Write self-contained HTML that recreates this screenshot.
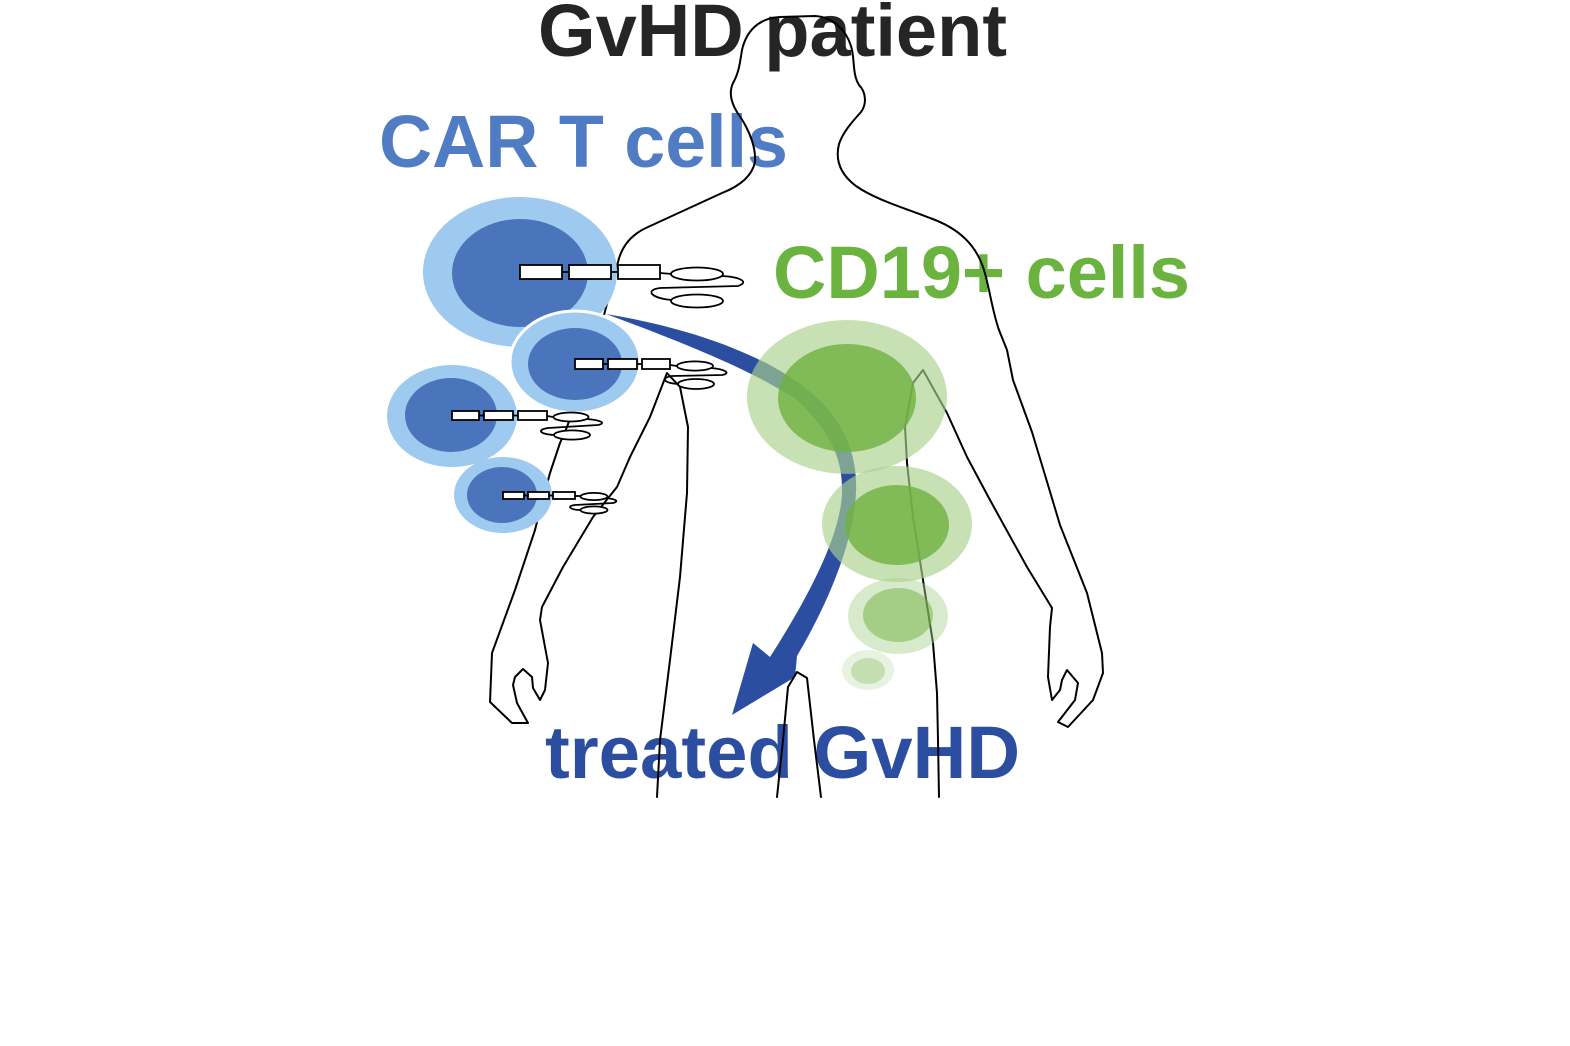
<!DOCTYPE html>
<html>
<head>
<meta charset="utf-8">
<style>
  html, body { margin: 0; padding: 0; background: #ffffff; }
  svg { display: block; }
  .t { font-family: "Liberation Sans", Arial, sans-serif; font-weight: 700; font-size: 74px; }
</style>
</head>
<body>
<svg width="1570" height="1046" viewBox="0 0 1570 1046" xmlns="http://www.w3.org/2000/svg">
  <rect width="1570" height="1046" fill="#ffffff"/>

  <!-- Labels -->
  <text class="t" x="538" y="56" fill="#252525" textLength="469" lengthAdjust="spacingAndGlyphs">GvHD patient</text>
  <text class="t" x="379" y="167" fill="#4f7cc2" textLength="409" lengthAdjust="spacingAndGlyphs">CAR T cells</text>
  <text class="t" x="773" y="298" fill="#6ab33f" textLength="417" lengthAdjust="spacingAndGlyphs">CD19+ cells</text>
  <text class="t" x="545" y="778" fill="#2c4ea0" textLength="475" lengthAdjust="spacingAndGlyphs">treated GvHD</text>

  <!-- Blue curved arrow -->
  <path fill="#2c4ea0" d="M606,314
    C680,326 755,350 803,386
    C840,414 858,450 856,492
    C854,540 830,600 797,656
    L795,677 L732,715 L753,643 L770,657
    C800,610 841,540 842,492
    C843,456 828,430 797,400
    C752,370 682,342 606,314 Z"/>

  <!-- Body outline -->
  <g fill="none" stroke="#000" stroke-width="2" stroke-linejoin="round" stroke-linecap="round">
    <polyline points="
      657,797 660,740 670,660 680,577 687,493 688,427 680,387 667,373
      650,417 630,457 617,487 593,517 563,567 542,607 540,620 545,647 548,663 545,690 540,700
      533,688 532,677 523,669 515,677 513,685 517,703 528,723 512,723 490,702 492,653
      515,590 535,530 540,510 550,473 560,443 567,427 580,390 600,330 612,285 618,262"/>
    <path d="M618,262 C622,245 632,234 648,227 C670,217 700,203 722,193 C740,186 752,176 755,162
      C756,148 750,132 741,118 C732,106 728,94 733,83 C739,73 740,62 742,50
      C746,32 758,18 780,17 L815,16 C833,17 846,30 851,46 C855,58 852,74 859,85
      C866,92 867,104 861,112 C852,122 843,132 839,144 C835,160 840,174 856,186
      C876,200 905,208 930,218 C958,228 976,244 984,270 C990,290 992,310 999,330"/>
    <polyline points="
      999,330 1007,350 1013,380 1032,432 1048,485 1060,525 1087,593
      1102,653 1103,673 1093,700 1068,727 1058,722 1075,700 1078,683 1067,670 1062,680
      1060,690 1052,700 1048,677 1050,627 1052,608 1027,567 990,500 967,457 947,413
      923,370 913,383 905,427 907,463 913,517 923,580 933,643 937,693 938,740 939,797"/>
    <polyline points="777,797 783,740 788,687 797,672 807,678 814,740 821,797"/>
  </g>

  <!-- Green CD19+ cells (semi-transparent) -->
  <g>
    <ellipse cx="847" cy="397" rx="100" ry="77" fill="#a9d18e" fill-opacity="0.65"/>
    <ellipse cx="847" cy="398" rx="69" ry="54" fill="#6fb240" fill-opacity="0.8"/>
    <ellipse cx="897" cy="524" rx="75" ry="58" fill="#a9d18e" fill-opacity="0.65"/>
    <ellipse cx="897" cy="525" rx="52" ry="40" fill="#6fb240" fill-opacity="0.8"/>
    <ellipse cx="898" cy="616" rx="50" ry="38" fill="#a9d18e" fill-opacity="0.45"/>
    <ellipse cx="898" cy="615" rx="35" ry="27" fill="#6fb240" fill-opacity="0.5"/>
    <ellipse cx="868" cy="670" rx="26" ry="20" fill="#a9d18e" fill-opacity="0.28"/>
    <ellipse cx="868" cy="671" rx="17" ry="13" fill="#6fb240" fill-opacity="0.3"/>
  </g>

  <!-- Blue CAR T cells -->
  <g>
    <ellipse cx="520" cy="272" rx="97" ry="75" fill="#9dcaee"/>
    <ellipse cx="520" cy="273" rx="68" ry="54" fill="#4a75bd"/>
    <ellipse cx="575" cy="362" rx="65" ry="51" fill="#9dcaee" stroke="#ffffff" stroke-width="3"/>
    <ellipse cx="575" cy="364" rx="47" ry="36" fill="#4a75bd"/>
    <ellipse cx="452" cy="416" rx="65" ry="51" fill="#9dcaee"/>
    <ellipse cx="451" cy="415" rx="46" ry="37" fill="#4a75bd"/>
    <ellipse cx="503" cy="495" rx="49" ry="38" fill="#9dcaee"/>
    <ellipse cx="502" cy="495" rx="35" ry="28" fill="#4a75bd"/>
  </g>

  <!-- CAR constructs -->
  <g fill="#ffffff" stroke="#000" stroke-width="1.8">
    <line x1="562" y1="272" x2="569" y2="272"/>
    <line x1="611" y1="272" x2="618" y2="272"/>
    <line x1="660" y1="273" x2="672" y2="274"/>
    <rect x="520" y="265" width="42" height="14"/>
    <rect x="569" y="265" width="42" height="14"/>
    <rect x="618" y="265" width="42" height="14"/>
    <path fill="none" d="M722,276 C740,277 750,282 738,286 L660,288 C645,290 650,298 672,300"/>
    <ellipse cx="697" cy="274" rx="26" ry="6.5"/>
    <ellipse cx="697" cy="301" rx="26" ry="6.5"/>

    <line x1="603" y1="364" x2="608" y2="364"/>
    <line x1="637" y1="364" x2="642" y2="364"/>
    <line x1="670" y1="365" x2="677" y2="366"/>
    <rect x="575" y="359" width="28" height="10"/>
    <rect x="608" y="359" width="29" height="10"/>
    <rect x="642" y="359" width="28" height="10"/>
    <path fill="none" d="M711,368 C724,369 732,373 722,375 L672,376 C660,378 664,383 678,384"/>
    <ellipse cx="695" cy="366" rx="18" ry="4.6"/>
    <ellipse cx="696" cy="384" rx="18" ry="5"/>

    <line x1="479" y1="415.5" x2="484" y2="415.5"/>
    <line x1="513" y1="415.5" x2="518" y2="415.5"/>
    <line x1="547" y1="416" x2="553" y2="417"/>
    <rect x="452" y="411" width="27" height="9"/>
    <rect x="484" y="411" width="29" height="9"/>
    <rect x="518" y="411" width="29" height="9"/>
    <path fill="none" d="M587,419 C600,420 607,423 598,425 L548,428 C536,430 540,434 554,435"/>
    <ellipse cx="571" cy="417" rx="17.5" ry="4.5"/>
    <ellipse cx="572" cy="435" rx="18" ry="4.6"/>

    <line x1="524" y1="495.5" x2="528" y2="495.5"/>
    <line x1="549" y1="495.5" x2="553" y2="495.5"/>
    <line x1="575" y1="496" x2="580" y2="496"/>
    <rect x="503" y="492" width="21" height="7"/>
    <rect x="528" y="492" width="21" height="7"/>
    <rect x="553" y="492" width="22" height="7"/>
    <path fill="none" d="M606,498 C615,499 620,501 613,503 L575,505 C566,506 570,510 581,510"/>
    <ellipse cx="594" cy="496.5" rx="13.5" ry="3.6"/>
    <ellipse cx="594" cy="510" rx="13.5" ry="3.6"/>
  </g>
</svg>
</body>
</html>
